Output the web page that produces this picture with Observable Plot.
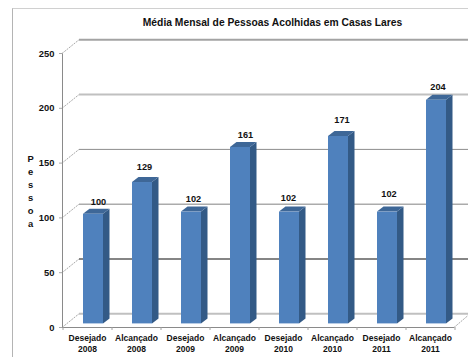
<!DOCTYPE html>
<html><head><meta charset="utf-8">
<script src="https://cdn.jsdelivr.net/npm/d3@7"></script>
<script src="https://cdn.jsdelivr.net/npm/@observablehq/plot@0.6"></script>
<style>
html,body{margin:0;padding:0;background:#fff;overflow:hidden}
#wrap{position:relative;width:468px;height:357px}
#border{position:absolute;left:12px;top:8px;right:0;bottom:0;border-left:1px solid #b4b4b4;border-top:1px solid #d0d0d0}
#wrap svg{position:absolute;left:0;top:0;background:transparent}
</style></head><body>
<div id="wrap"><div id="border"></div></div>
<script>
const categories = ["Desejado 2008","Alcançado 2008","Desejado 2009","Alcançado 2009","Desejado 2010","Alcançado 2010","Desejado 2011","Alcançado 2011"];
const values = [100,129,102,161,102,171,102,204];
const yTicks = [0,50,100,150,200,250];
const titleText = "Média Mensal de Pessoas Acolhidas em Casas Lares";
const yTitle = "P\ne\ns\ns\no\na";

// styling only
const gridStroke = {0:"#c0c0c0",50:"#858585",100:"#ababab",150:"#8c8c8c",200:"#c0c0c0",250:"#a3a3a3"};
const gridWidth  = {0:2,50:2,100:1.6,150:1,200:2,250:2};
const labelNudge = [[5,-12.5],[2,-15],[2,-13.5],[5,-12.5],[-1,-14],[3.5,-16],[1.5,-18.5],[1.5,-13.5]];
const font = "Liberation Sans";
const ink = "#111";

const table = categories.map((category,i)=>({category,value:values[i]}));
const svgEl = (n,a)=>{const e=document.createElementNS("http://www.w3.org/2000/svg",n);for(const k in a)e.setAttribute(k,a[k]);return e;};

function wallRender(index,scales,vals,dims,ctx,next){
  const g = next(index,scales,vals,dims,ctx);
  const x0 = dims.marginLeft;
  const R = dims.width;
  yTicks.forEach(t=>{
    const y = scales.y(t);
    g.appendChild(svgEl("path",{d:`M${x0+17},${y-13.7}H${R}`,fill:"none",stroke:gridStroke[t],"stroke-width":gridWidth[t]}));
    g.appendChild(svgEl("path",{d:`M${x0},${y}L${x0+17},${y-13.7}`,fill:"none",stroke:"#a8a8a8","stroke-width":1,"stroke-dasharray":"2 1"}));
  });
  const y0 = scales.y(0), xr = R-dims.marginRight;
  g.appendChild(svgEl("path",{d:`M${xr},${y0}L${R},${y0-12}`,fill:"none",stroke:"#a8a8a8","stroke-width":1,"stroke-dasharray":"2 1"}));
  g.appendChild(svgEl("path",{d:`M${x0+0.5},${scales.y(250)}V${y0}`,fill:"none",stroke:"#8a8a8a","stroke-width":1}));
  return g;
}

function bar3d(index,scales,vals,dims,ctx,next){
  const g = next(index,scales,vals,dims,ctx);
  g.querySelectorAll("rect").forEach(r=>{
    const x=+r.getAttribute("x"),y=+r.getAttribute("y"),w=+r.getAttribute("width"),h=+r.getAttribute("height");
    const dx=6.5,dy=-5;
    r.parentNode.insertBefore(svgEl("polygon",{points:`${x+w},${y} ${x+w+dx},${y+dy} ${x+w+dx},${y+h+dy} ${x+w},${y+h}`,fill:"#335a86"}),r);
    r.parentNode.insertBefore(svgEl("polygon",{points:`${x},${y} ${x+dx},${y+dy} ${x+w+dx},${y+dy} ${x+w},${y}`,fill:"#3e6797"}),r);
  });
  return g;
}

const plot = Plot.plot({
  width:468,height:357,
  marginLeft:62,marginRight:14,marginTop:53,marginBottom:30,
  style:{fontFamily:font,background:"transparent",overflow:"visible"},
  x:{domain:categories,paddingInner:0.592,paddingOuter:0.296,align:0.5,label:null},
  y:{domain:[0,250],ticks:yTicks,label:null},
  marks:[
    Plot.ruleY(yTicks,{stroke:"none",render:wallRender}),
    Plot.axisY({ticks:yTicks,tickSize:3,tickPadding:5,stroke:"#a8a8a8",fontSize:9.4,fontWeight:"bold",fill:ink,label:null}),
    Plot.ruleY([0],{stroke:"#8a8a8a",strokeWidth:1}),
    Plot.ruleX(categories,{x:d=>d,y1:0,y2:-2.7,dx:-24.5,stroke:"#a0a0a0"}),
    Plot.ruleX(categories.slice(-1),{x:d=>d,y1:0,y2:-2.7,dx:24.5,stroke:"#a0a0a0"}),
    Plot.axisX({tickSize:0,tickPadding:6,fontSize:8.5,fontWeight:"bold",lineHeight:1.26,fill:ink,label:null,
      tickFormat:d=>d.replace(" ","\n")}),
    Plot.barY(table,{x:"category",y:"value",fill:"#4f81bd",dx:6,dy:-3.6,render:bar3d}),
    ...table.map((d,i)=>Plot.text([d],{x:"category",y:"value",text:t=>String(t.value),fontSize:9.2,fontWeight:"bold",fill:ink,
      dx:6+labelNudge[i][0],dy:-3.6+labelNudge[i][1]})),
    Plot.text([titleText],{frameAnchor:"top",dx:14,dy:-31,fontSize:10.3,fontWeight:"bold",fill:ink,lineAnchor:"middle"}),
    Plot.text([yTitle],{frameAnchor:"left",dx:-32,textAnchor:"middle",fontSize:9.4,fontWeight:"bold",fill:ink,lineHeight:1.38})
  ]
});
document.getElementById("wrap").appendChild(plot);
</script>
</body></html>
